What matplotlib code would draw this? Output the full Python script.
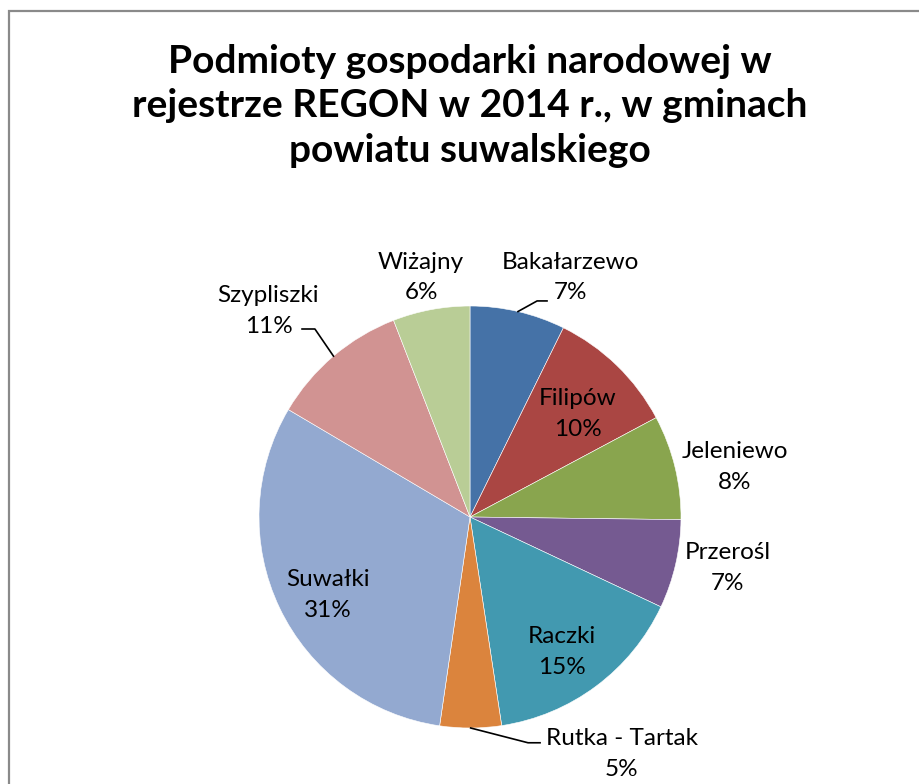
import numpy as np
import matplotlib.pyplot as plt
from matplotlib.patches import Rectangle

plt.rcParams['font.family'] = ['Lato', 'DejaVu Sans']

# ---------- data ----------
gminy = ['Bakałarzewo', 'Filipów', 'Jeleniewo', 'Przerośl', 'Raczki',
         'Rutka - Tartak', 'Suwałki', 'Szypliszki', 'Wiżajny']
udzial = [7.3, 9.9, 8.0, 6.8, 15.6, 4.7, 31.2, 10.6, 5.9]   # % of entities
etykiety_pct = ['7%', '10%', '8%', '7%', '15%', '5%', '31%', '11%', '6%']

colors = ['#4572A7', '#AA4643', '#89A54E', '#755A91', '#4299B0',
          '#DB843D', '#93A9D0', '#D19392', '#B9CD96']

# label centres in pie units (radius = 1)
label_pos = [(0.475, 1.135), (0.51, 0.49), (1.255, 0.235), (1.222, -0.24),
             (0.435, -0.64), (0.72, -1.125), (-0.672, -0.37), (-0.955, 0.975),
             (-0.232, 1.135)]
# leader lines: (wedge index, elbow, end)
leaders = [(0, (0.318, 1.024), (0.365, 1.024)),
           (5, (0.275, -1.07), (0.332, -1.07)),
           (7, (-0.735, 0.891), (-0.796, 0.891))]

W, H = 919, 784
CX, CY, R = 470, 517, 211   # pie centre / radius in pixels

fig = plt.figure(figsize=(W / 100, H / 100), dpi=100)
ax = fig.add_axes([0, 0, 1, 1])

wedges, _ = ax.pie(udzial, colors=colors, startangle=90, counterclock=False,
                   radius=1.0, wedgeprops=dict(edgecolor='white', linewidth=0.4))
ax.set_xlim(-CX / R, (W - CX) / R)
ax.set_ylim(-(H - CY) / R, CY / R)
ax.set_aspect('equal')
ax.axis('off')

for name, pct, (x, y) in zip(gminy, etykiety_pct, label_pos):
    ax.text(x, y, f'{name}\n{pct}', ha='center', va='center', fontsize=17.5,
            linespacing=1.58, color='black')

for i, elbow, end in leaders:
    w = wedges[i]
    ang = np.deg2rad((w.theta1 + w.theta2) / 2)
    x0, y0 = np.cos(ang), np.sin(ang)
    ax.plot([x0, elbow[0], end[0]], [y0, elbow[1], end[1]], color='black', lw=1.2)

fig.text(CX / W, 1 - 44 / H,
         'Podmioty gospodarki narodowej w\nrejestrze REGON w 2014 r., w gminach\npowiatu suwalskiego',
         ha='center', va='top', fontsize=28, fontweight='bold', linespacing=1.32)

fig.patches.append(Rectangle((8.5 / W, -0.1), 1.2, (H - 10.5) / H + 0.1,
                             transform=fig.transFigure, fill=False,
                             edgecolor='#8a8a8a', linewidth=1.6))

fig.savefig('out.png', dpi=100)
